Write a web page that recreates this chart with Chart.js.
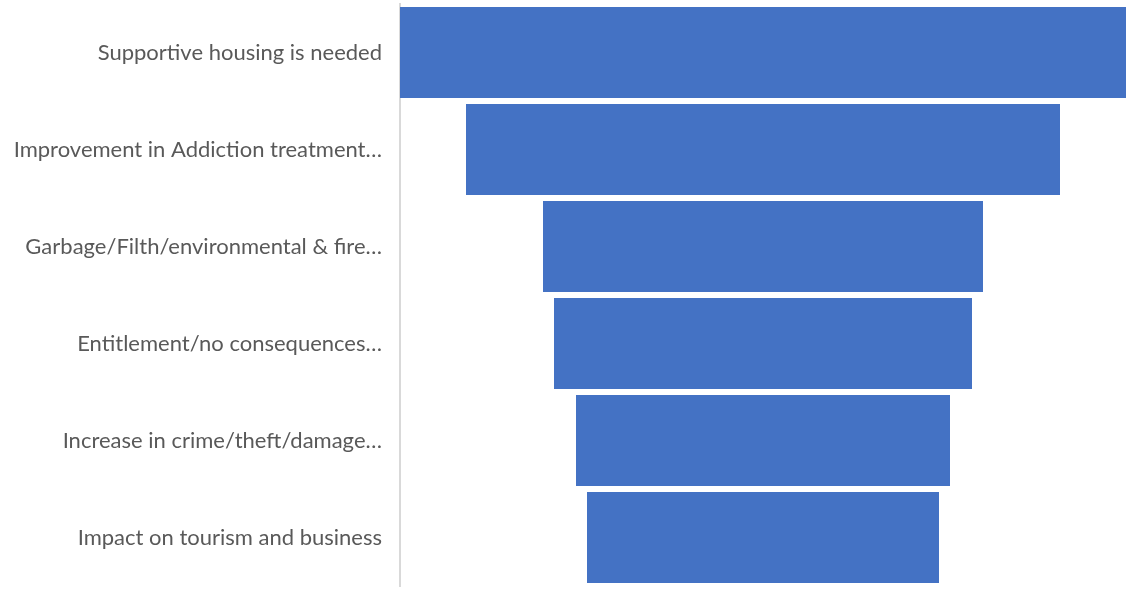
<!DOCTYPE html>
<html>
<head>
<meta charset="utf-8">
<script src="https://cdn.jsdelivr.net/npm/chart.js@4"></script>
<style>
  html, body { margin: 0; padding: 0; background: #fff; overflow: hidden; }
  canvas { display: block; }
</style>
</head>
<body>
<canvas id="funnel" width="1126" height="602"></canvas>
<script>
// funnel stages, top to bottom
const stages = [
    'Supportive housing is needed',
    'Improvement in Addiction treatment…',
    'Garbage/Filth/environmental & fire…',
    'Entitlement/no consequences…',
    'Increase in crime/theft/damage…',
    'Impact on tourism and business'
];
const counts = [33, 27, 20, 19, 17, 16];

const maxCount = Math.max(...counts);

// each bar is centred on zero so the stack looks like a funnel
const centred = counts.map(v => [-v / 2, v / 2]);

new Chart(document.getElementById('funnel').getContext('2d'), {
    type: 'bar',
    data: {
        labels: stages,
        datasets: [{
            data: centred,
            backgroundColor: '#4472C4',
            borderWidth: 0,
            borderSkipped: false,
            barPercentage: 0.94,
            categoryPercentage: 1
        }]
    },
    options: {
        indexAxis: 'y',
        responsive: false,
        animation: false,
        layout: { padding: { top: 4, bottom: 16, left: 0, right: 0 } },
        plugins: {
            legend: { display: false },
            tooltip: { enabled: false }
        },
        scales: {
            x: {
                display: false,
                min: -maxCount / 2,
                max: maxCount / 2
            },
            y: {
                grid: { display: false, drawTicks: false },
                border: { display: true, color: '#d9d9d9', width: 2 },
                ticks: {
                    color: '#595959',
                    padding: 18,
                    font: { family: 'Lato', size: 22 }
                },
                afterFit: (scale) => {
                    // fixed label column, and no extra room for the end labels
                    scale.width = 400;
                    scale.paddingTop = 0;
                    scale.paddingBottom = 0;
                }
            }
        }
    }
});
</script>
</body>
</html>
